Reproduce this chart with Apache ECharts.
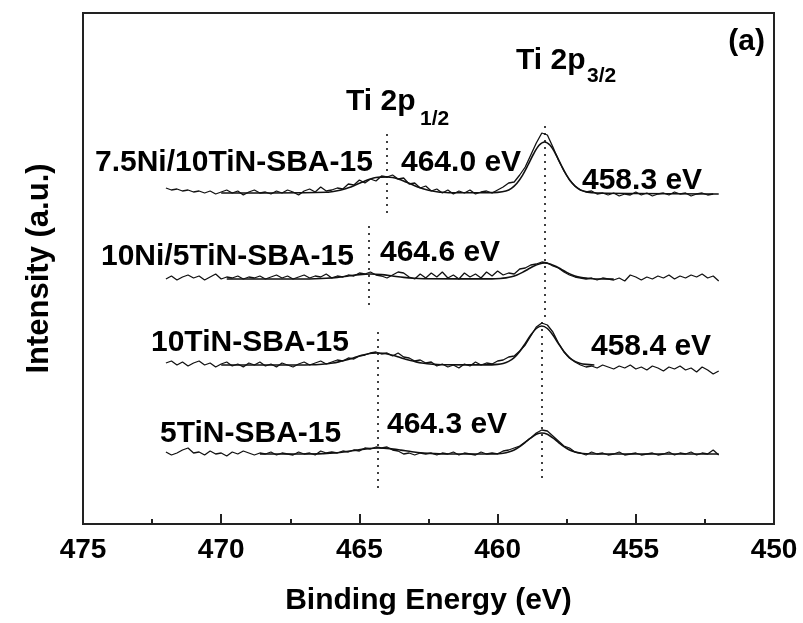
<!DOCTYPE html>
<html>
<head>
<meta charset="utf-8">
<script src="https://cdn.jsdelivr.net/npm/echarts@6/dist/echarts.min.js"></script>
<style>
  html, body { margin: 0; padding: 0; background: #fff; }
  #xps-chart { width: 803px; height: 623px; }
</style>
</head>
<body>
<div id="xps-chart"></div>
<script>
const FONT = "'Liberation Sans', Arial, sans-serif";
const INK = "#111";

// binding energy grid of the measured spectra (472 -> 452 eV, 0.2 eV step)
const energy = [];
for (let i = 0; i <= 100; i++) energy.push(+(472 - i * 0.2).toFixed(1));

const sampleNames = ["7.5Ni/10TiN-SBA-15", "10Ni/5TiN-SBA-15", "10TiN-SBA-15", "5TiN-SBA-15"];
// vertical stacking of the four spectra (a.u.)
const offsets = [331, 245, 159, 70];

// measured intensities above each baseline (a.u.)
const raw75Ni10TiN = [
  5, 3, 4, 2, 3, 1, 2, 0, 2, -1, 1, 3, 0, 2, -2, 1, 3, 0, 1, -1,
  2, 0, 3, 1, -2, 2, 4, 1, 6, 2, 3, 5, 4, 9, 8, 13, 10, 14, 12, 17,
  16, 18, 14, 15, 9, 10, 5, 7, 2, 4, 0, 3, -1, 2, 0, 3, -1, 1, 2, 0,
  3, 6, 10, 11, 18, 26, 38, 50, 60, 58, 46, 33, 22, 13, 7, 3, 1, 2, -1, 0,
  -2, 0, -3, -1, -2, 1, -2, 0, -3, -1, 0, -2, 1, -1, 0, -3, -1, 0, -2, -1, -1
];
const raw10Ni5TiN = [
  0, 3, -1, 2, 4, 1, 3, -1, 2, 5, 0, 2, 1, 3, 0, 2, 1, 3, 0, 2,
  4, 1, 3, 0, 2, 4, 1, 3, 2, 5, 1, 3, 2, 4, 3, 6, 5, 7, 4, 3,
  1, 4, 7, 6, 2, 0, 5, 1, 6, 2, 7, 1, 4, 0, 6, 2, 5, 1, 7, 3,
  8, 4, 6, 5, 10, 11, 14, 15, 17, 16, 13, 11, 7, 4, 2, 1, 0, 1, -1, 1,
  0, -1, 1, -2, 4, 2, -1, 2, 0, 3, 1, 4, 0, 3, 1, 4, 2, 5, 1, 3, -2
];
const raw10TiN = [
  2, 4, 0, 3, -1, 2, 4, 0, 2, -2, 1, 3, -1, 1, -2, 2, 0, 3, -1, 1,
  -2, 2, 0, -2, 1, 3, 0, 2, 4, 1, 3, 5, 4, 7, 6, 9, 10, 12, 13, 11,
  12, 9, 12, 8, 7, 4, 5, 2, 3, -1, 1, -2, 0, -3, 1, -1, 3, 0, 2, 1,
  4, 5, 8, 9, 14, 20, 29, 38, 42, 40, 33, 22, 13, 7, 3, 0, -2, -1, -3, 0,
  -2, -4, -1, -3, 0, -4, -2, -5, -1, -3, -6, -2, -4, -1, -5, -3, -7, -2, -5, -9, -6
];
const raw5TiN = [
  2, -1, 1, 4, 6, 1, 2, -1, 3, 0, 1, -2, 2, 0, 3, 1, -1, 1, 0, 2,
  -1, 1, 0, -1, 2, 0, 1, -1, 3, 1, 2, 1, 3, 2, 4, 3, 6, 5, 7, 6,
  7, 4, 3, 0, 1, -1, 1, 0, 1, -1, 1, 0, 2, -1, 1, 0, -1, 2, 0, 1,
  0, 3, 4, 6, 8, 12, 16, 21, 24, 23, 18, 13, 8, 6, 2, 1, -1, 2, 0, 1,
  -1, 0, 2, -1, 0, 1, -1, 0, 1, -1, 0, 2, -1, 1, 0, 2, -1, 1, 0, 4, -1
];

// fitted envelopes [eV, a.u. above baseline]
const fit75Ni10TiN = [
  [470.0, 0], [467.0, 0.2], [466.2, 0.7], [466.0, 1.3], [465.8, 2.2], [465.6, 3.5], [465.4, 5.2],
  [465.2, 7.3], [465.0, 9.7], [464.8, 12.1], [464.6, 14.1], [464.4, 15.5], [464.2, 15.9], [464.0, 16],
  [463.8, 15.5], [463.6, 14.1], [463.4, 12.1], [463.2, 9.7], [463.0, 7.3], [462.8, 5.2], [462.6, 3.5],
  [462.4, 2.2], [462.2, 1.3], [462.0, 0.7], [461.6, 0.2], [460.4, 0.2], [460.0, 0.6], [459.7, 2.0],
  [459.5, 4.7], [459.3, 9.8], [459.1, 17.7], [458.9, 28], [458.7, 39], [458.5, 47.7], [458.3, 51],
  [458.1, 47.7], [457.9, 39], [457.7, 28], [457.5, 17.7], [457.3, 9.8], [457.1, 4.7], [456.9, 1.9],
  [456.6, 0.3], [455.0, -0.5], [452.2, -1]
];
const fit10Ni5TiN = [
  [469.8, 0], [467.0, 0], [466.6, 0.2], [466.2, 0.7], [465.8, 1.6], [465.4, 3.0], [465.0, 4.4],
  [464.6, 5], [464.2, 4.4], [463.8, 3.0], [463.4, 1.6], [463.0, 0.7], [462.6, 0.2], [460.2, 0.1],
  [459.9, 0.5], [459.7, 1.1], [459.5, 2.2], [459.3, 4.0], [459.1, 6.6], [458.9, 9.7], [458.7, 12.8],
  [458.5, 15.1], [458.3, 16], [458.1, 15.1], [457.9, 12.8], [457.7, 9.7], [457.5, 6.6], [457.3, 4.0],
  [457.1, 2.2], [456.9, 1.1], [456.7, 0.5], [456.3, 0], [455.8, 0]
];
const fit10TiN = [
  [470.0, 0], [467.2, 0], [466.75, 0.2], [466.35, 0.8], [466.15, 1.3], [465.95, 2.0], [465.75, 3.1],
  [465.55, 4.4], [465.35, 6.0], [465.15, 7.7], [464.95, 9.4], [464.75, 10.7], [464.55, 11.7], [464.35, 12],
  [464.15, 11.7], [463.95, 10.7], [463.75, 9.4], [463.55, 7.7], [463.35, 6.0], [463.15, 4.4], [462.95, 3.1],
  [462.75, 2.0], [462.55, 1.3], [462.35, 0.8], [461.95, 0.2], [460.4, 0.1], [460.0, 0.6], [459.8, 1.5],
  [459.6, 3.6], [459.4, 7.4], [459.2, 13.5], [459.0, 21.5], [458.8, 30], [458.6, 36.5], [458.4, 39],
  [458.2, 36.5], [458.0, 30], [457.8, 21.5], [457.6, 13.5], [457.4, 7.4], [457.2, 3.6], [457.0, 1.5],
  [456.8, 0.6], [456.5, 0]
];
const fit5TiN = [
  [468.6, 0], [466.8, 0], [466.3, 0.4], [465.9, 1.0], [465.5, 2.2], [465.1, 3.9], [464.7, 5.4],
  [464.3, 6], [463.9, 5.4], [463.5, 3.9], [463.1, 2.2], [462.7, 1.0], [462.3, 0.4], [461.8, 0],
  [460.2, 0], [460.0, 0.3], [459.8, 0.8], [459.6, 2.0], [459.4, 4.0], [459.2, 7.3], [459.0, 11.6],
  [458.8, 16.1], [458.6, 19.7], [458.4, 21], [458.2, 19.7], [458.0, 16.1], [457.8, 11.6], [457.6, 7.3],
  [457.4, 4.0], [457.2, 2.0], [457.0, 0.8], [456.8, 0.3], [456.4, 0], [452.0, 0]
];

const measured = [raw75Ni10TiN, raw10Ni5TiN, raw10TiN, raw5TiN];
const fitted = [fit75Ni10TiN, fit10Ni5TiN, fit10TiN, fit5TiN];

// dotted peak guides: energy, lower and upper intensity (a.u.)
const guides = [
  { e: 458.3, lo: 207, hi: 402 },
  { e: 458.4, lo: 46, hi: 207 },
  { e: 464.0, lo: 311, hi: 391 },
  { e: 464.65, lo: 219, hi: 299 },
  { e: 464.35, lo: 36, hi: 192 }
];

const chart = echarts.init(document.getElementById("xps-chart"), null, {
  width: 803,
  height: 623,
  renderer: "canvas",
});

const series = [];
measured.forEach((vals, k) => {
  series.push({
    name: sampleNames[k],
    type: "line",
    data: energy.map((e, i) => [e, offsets[k] + vals[i]]),
    showSymbol: false,
    lineStyle: { color: INK, width: 1.3 },
    z: 3,
  });
  series.push({
    name: sampleNames[k] + " fit",
    type: "line",
    data: fitted[k].map((p) => [p[0], offsets[k] + p[1]]),
    showSymbol: false,
    smooth: 0.3,
    lineStyle: { color: INK, width: 1.6 },
    z: 2,
  });
});

series.push({
  name: "guides",
  type: "line",
  data: [],
  markLine: {
    silent: true,
    symbol: ["none", "none"],
    label: { show: false },
    lineStyle: { color: INK, width: 1.6, type: [2, 5] },
    data: guides.map((g) => [{ coord: [g.e, g.lo] }, { coord: [g.e, g.hi] }]),
  },
});

function label(text, x, y, size, align) {
  return {
    type: "text",
    x: x,
    y: y,
    style: {
      text: text,
      font: "bold " + size + "px " + FONT,
      fill: "#000",
      textAlign: align || "left",
      textVerticalAlign: "middle",
    },
  };
}

const option = {
  animation: false,
  backgroundColor: "#fff",
  grid: {
    left: 83,
    right: 29,
    top: 13,
    bottom: 99,
    show: true,
    borderColor: "#222",
    borderWidth: 2,
  },
  xAxis: {
    type: "value",
    min: 450,
    max: 475,
    interval: 5,
    inverse: true,
    name: "Binding Energy (eV)",
    nameLocation: "middle",
    nameGap: 62,
    nameTextStyle: { fontSize: 30, fontWeight: "bold", color: "#000", fontFamily: FONT },
    axisLine: { lineStyle: { color: "#222", width: 2 } },
    axisTick: { inside: true, length: 10, lineStyle: { color: "#222", width: 2 } },
    minorTick: { show: true, splitNumber: 2, length: 5, lineStyle: { color: "#222", width: 2 } },
    axisLabel: { fontSize: 28, fontWeight: "bold", color: "#000", margin: 12, fontFamily: FONT },
    splitLine: { show: false },
  },
  yAxis: {
    type: "value",
    min: 0,
    max: 511,
    name: "Intensity (a.u.)",
    nameLocation: "middle",
    nameGap: 28,
    nameTextStyle: { fontSize: 31, fontWeight: "bold", color: "#000", fontFamily: FONT },
    axisLine: { show: true, lineStyle: { color: "#222", width: 2 } },
    axisTick: { show: false },
    axisLabel: { show: false },
    splitLine: { show: false },
  },
  graphic: [
    label("(a)", 765, 42, 30, "right"),
    label("Ti 2p", 516, 61, 30),
    label("3/2", 587, 76, 21),
    label("Ti 2p", 346, 102, 30),
    label("1/2", 420, 119, 21),
    label(sampleNames[0], 95, 163, 30),
    label("464.0 eV", 401, 163, 30),
    label("458.3 eV", 582, 181, 30),
    label(sampleNames[1], 101, 257, 30),
    label("464.6 eV", 380, 253, 30),
    label(sampleNames[2], 151, 343, 30),
    label("458.4 eV", 591, 347, 30),
    label(sampleNames[3], 160, 434, 30),
    label("464.3 eV", 387, 425, 30),
  ],
  series: series,
};

chart.setOption(option);

window.onresize = function () {
  chart.resize();
};
</script>
</body>
</html>
